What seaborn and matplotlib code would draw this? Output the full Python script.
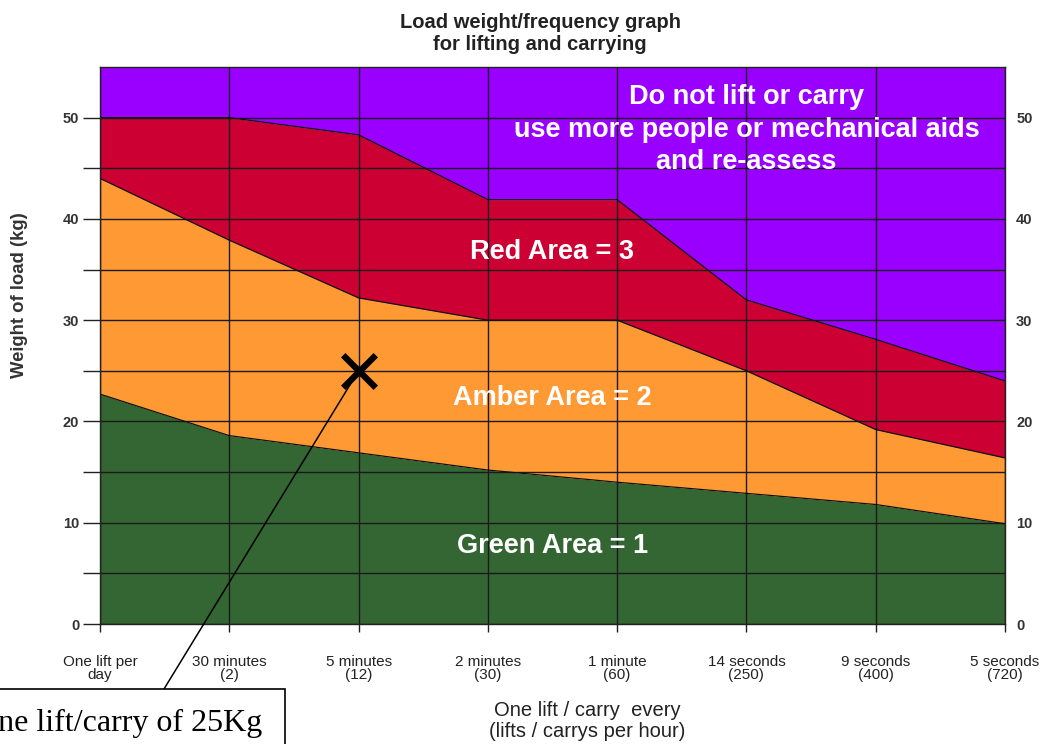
import numpy as np
import pandas as pd
import matplotlib
matplotlib.use("Agg")
import matplotlib.pyplot as plt
import seaborn as sns
from matplotlib.patches import Rectangle

# ---- data ----
categories = ["One lift per\nday", "30 minutes\n(2)", "5 minutes\n(12)", "2 minutes\n(30)",
              "1 minute\n(60)", "14 seconds\n(250)", "9 seconds\n(400)", "5 seconds\n(720)"]
green_top = [22.7, 18.6, 16.9, 15.2, 14.0, 12.9, 11.8, 9.9]
amber_top = [44.0, 37.9, 32.2, 30.0, 30.0, 25.0, 19.2, 16.4]
red_top = [50.0, 50.0, 48.3, 41.9, 41.9, 32.0, 28.1, 24.0]
purple_top = [55, 55, 55, 55, 55, 55, 55, 55]
y_major = [0, 10, 20, 30, 40, 50]
y_minor = [5, 15, 25, 35, 45]
example_x = [2]
example_y = [25]

sns.set_theme(style="white")
plt.rcParams["font.family"] = ["Liberation Sans", "DejaVu Sans"]

C_GREEN = "#336633"
C_AMBER = "#FF9933"
C_RED = "#CC0033"
C_PURPLE = "#9900FF"

W, H = 1041, 744
fig = plt.figure(figsize=(W / 100, H / 100), dpi=100)
ax = fig.add_axes([100 / W, 1 - 624 / H, 905 / W, 557 / H])

x = np.arange(len(categories))
df = pd.DataFrame({"x": x, "green": green_top, "amber": amber_top, "red": red_top, "purple": purple_top})

ax.fill_between(df["x"], 0, df["green"], color=C_GREEN, lw=0, zorder=1)
ax.fill_between(df["x"], df["green"], df["amber"], color=C_AMBER, lw=0, zorder=1)
ax.fill_between(df["x"], df["amber"], df["red"], color=C_RED, lw=0, zorder=1)
ax.fill_between(df["x"], df["red"], df["purple"], color=C_PURPLE, lw=0, zorder=1)

for col in ["green", "amber", "red"]:
    sns.lineplot(data=df, x="x", y=col, ax=ax, color="#111111", lw=0.9, zorder=3)

ax.set_xlim(0, 7)
ax.set_ylim(0, 55)
ax.set_xticks(x)
ax.set_xticklabels(categories, fontsize=11, color="#222222", linespacing=0.92)
ax.set_yticks(y_major)
ax.set_yticklabels([str(v) for v in y_major], fontsize=10.5, fontweight="bold", color="#333333")
ax.set_yticks(y_minor, minor=True)
ax.tick_params(axis="y", which="both", length=12, width=1, color="#222222", left=True, pad=3)
ax.tick_params(axis="x", length=6, width=1, color="#222222", bottom=True, pad=16)
ax.grid(True, which="both", color="#1a1a1a", lw=1.0)
ax.set_axisbelow(False)
for s in ax.spines.values():
    s.set_color("#222222")
    s.set_linewidth(1.0)
    s.set_zorder(4)
ax.set_xlabel("")
ax.set_ylabel("")

fig.text(587 / W, 1 - 721 / H, "One lift / carry  every\n(lifts / carrys per hour)", ha="center",
         va="center", fontsize=14.5, color="#222222", linespacing=1.15)
fig.text(20 / W, 1 - 295 / H, "Weight of load (kg)", rotation=90, ha="center", va="center",
         fontsize=13.3, fontweight="bold", color="#333333")

# right axis labels
ax2 = ax.twinx()
ax2.set_ylim(0, 55)
ax2.set_yticks(y_major)
ax2.set_yticklabels([str(v) for v in y_major], fontsize=10.5, fontweight="bold", color="#333333")
ax2.tick_params(axis="y", length=0, pad=8)
ax2.grid(False)
for s in ax2.spines.values():
    s.set_visible(False)

fig.text(540 / W, 1 - 33.5 / H, "Load weight/frequency graph\nfor lifting and carrying",
         ha="center", va="center", fontsize=14.5, fontweight="bold", color="#222222", linespacing=1.15)

tkw = dict(color="white", fontweight="bold", fontsize=19.5, ha="center", va="center", zorder=6)
ax.text(5.0, 52.0, "Do not lift or carry", **tkw)
ax.text(5.0, 48.8, "use more people or mechanical aids", **tkw)
ax.text(5.0, 45.6, "and re-assess", **tkw)
ax.text(3.5, 36.7, "Red Area = 3", **tkw)
ax.text(3.5, 22.3, "Amber Area = 2", **tkw)
ax.text(3.5, 7.7, "Green Area = 1", **tkw)

# example point and annotation
sns.scatterplot(x=example_x, y=example_y, ax=ax, marker="x", s=550, color="black",
                linewidth=4.5, zorder=7, legend=False)
ax.annotate("", xy=(164 / W, 55 / H), xycoords="figure fraction",
            xytext=(example_x[0], example_y[0]), textcoords="data",
            arrowprops=dict(arrowstyle="-", lw=1.1, color="black", shrinkA=0, shrinkB=0),
            annotation_clip=False, zorder=8)
box = Rectangle((-20 / W, -20 / H), (285 + 20) / W, (55 + 20) / H,
                transform=fig.transFigure, facecolor="white", edgecolor="black", lw=1.2, zorder=5)
fig.add_artist(box)
fig.text(262 / W, 1 - 731 / H, "One lift/carry of 25Kg", ha="right", va="baseline",
         fontsize=23, family="Liberation Serif", color="black", zorder=6)

fig.savefig("out.png", dpi=100)
